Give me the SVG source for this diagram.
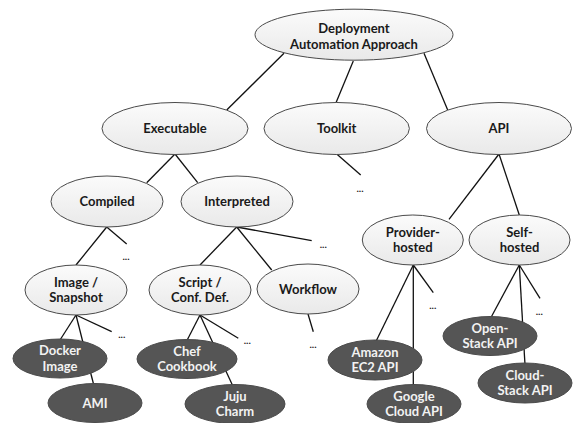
<svg xmlns="http://www.w3.org/2000/svg" width="575" height="423" viewBox="0 0 575 423">
<style>
.lt{fill:url(#g);stroke:#4a4a4a;stroke-width:1}
.dk{fill:#555555;stroke:#4a4a4a;stroke-width:1}
text{font-family:Lato,"Open Sans","Liberation Sans",sans-serif;font-weight:bold;font-size:13px;text-anchor:middle}
.tl{fill:#1a1a1a}
.td{fill:#f2f2f2}
.dots{font-size:10px;fill:#1a1a1a}
.c line{stroke:#111;stroke-width:1.3}
</style>
<defs>
<linearGradient id="g" x1="0" y1="0" x2="0" y2="1">
<stop offset="0" stop-color="#fbfbfb"/>
<stop offset="1" stop-color="#e9e9e9"/>
</linearGradient>
</defs>
<rect width="575" height="423" fill="#fff"/>
<g id="connectors" class="c">
<line x1="284" y1="53.3" x2="226.7" y2="110"/>
<line x1="353.3" y1="61" x2="336" y2="102.7"/>
<line x1="424" y1="53.3" x2="447.7" y2="110"/>
<line x1="336.7" y1="154" x2="360.7" y2="175"/>
<line x1="175" y1="154" x2="146.7" y2="182.7"/>
<line x1="175" y1="154" x2="197.7" y2="182.7"/>
<line x1="499" y1="154" x2="449" y2="219.3"/>
<line x1="499" y1="154" x2="519.3" y2="215"/>
<line x1="106.7" y1="227" x2="76" y2="265"/>
<line x1="106.7" y1="227" x2="126.7" y2="244"/>
<line x1="236.7" y1="227" x2="200" y2="265"/>
<line x1="236.7" y1="227" x2="271.7" y2="270"/>
<line x1="236.7" y1="227" x2="311.7" y2="240.7"/>
<line x1="76" y1="315" x2="60" y2="340"/>
<line x1="76" y1="315" x2="94" y2="386"/>
<line x1="76" y1="315" x2="111.7" y2="331.7"/>
<line x1="200" y1="315" x2="186.7" y2="341"/>
<line x1="200" y1="315" x2="233.3" y2="387"/>
<line x1="200" y1="315" x2="238.3" y2="338.3"/>
<line x1="308" y1="314" x2="313.3" y2="331.7"/>
<line x1="413.3" y1="265" x2="375.7" y2="342"/>
<line x1="413.3" y1="265" x2="413.3" y2="386"/>
<line x1="413.3" y1="265" x2="433.3" y2="292.7"/>
<line x1="519.3" y1="265" x2="490.7" y2="318"/>
<line x1="519.3" y1="265" x2="525" y2="365"/>
<line x1="519.3" y1="265" x2="540" y2="298.3"/>
</g>
<g id="dots">
<text class="dots" x="360" y="192">...</text>
<text class="dots" x="126" y="260">...</text>
<text class="dots" x="323.3" y="248">...</text>
<text class="dots" x="121.7" y="337.7">...</text>
<text class="dots" x="247.3" y="343.7">...</text>
<text class="dots" x="313" y="348">...</text>
<text class="dots" x="432.7" y="309">...</text>
<text class="dots" x="539.3" y="315.3">...</text>
</g>
<g id="n-root"><ellipse class="lt" cx="354" cy="34.7" rx="99" ry="25.5"/><text class="tl" x="354" y="32.5">Deployment</text><text class="tl" x="354" y="48.5">Automation Approach</text></g>
<g id="n-executable"><ellipse class="lt" cx="175" cy="128.5" rx="73" ry="26"/><text class="tl" x="175" y="133">Executable</text></g>
<g id="n-toolkit"><ellipse class="lt" cx="336.7" cy="128.5" rx="72.7" ry="26"/><text class="tl" x="336.7" y="133">Toolkit</text></g>
<g id="n-api"><ellipse class="lt" cx="499" cy="128.5" rx="72.5" ry="26"/><text class="tl" x="499" y="133">API</text></g>
<g id="n-compiled"><ellipse class="lt" cx="107" cy="201.5" rx="56" ry="25.5"/><text class="tl" x="107" y="206">Compiled</text></g>
<g id="n-interpreted"><ellipse class="lt" cx="237" cy="201.5" rx="56" ry="25.5"/><text class="tl" x="237" y="206">Interpreted</text></g>
<g id="n-image"><ellipse class="lt" cx="76" cy="290" rx="51" ry="25"/><text class="tl" x="76" y="286.5">Image /</text><text class="tl" x="76" y="302">Snapshot</text></g>
<g id="n-script"><ellipse class="lt" cx="200" cy="290" rx="51" ry="25"/><text class="tl" x="200" y="286.5">Script /</text><text class="tl" x="200" y="302">Conf. Def.</text></g>
<g id="n-workflow"><ellipse class="lt" cx="308" cy="289" rx="51" ry="25"/><text class="tl" x="308" y="293.5">Workflow</text></g>
<g id="n-provider"><ellipse class="lt" cx="412.8" cy="240" rx="50.5" ry="25"/><text class="tl" x="412.8" y="236.5">Provider-</text><text class="tl" x="412.8" y="252">hosted</text></g>
<g id="n-self"><ellipse class="lt" cx="519.5" cy="240" rx="50.5" ry="25"/><text class="tl" x="519.5" y="236.5">Self-</text><text class="tl" x="519.5" y="252">hosted</text></g>
<g id="n-docker"><ellipse class="dk" cx="60" cy="358.5" rx="47" ry="19.5"/><text class="td" x="60" y="355">Docker</text><text class="td" x="60" y="370.5">Image</text></g>
<g id="n-ami"><ellipse class="dk" cx="95" cy="403" rx="47" ry="19.5"/><text class="td" x="95" y="407.5">AMI</text></g>
<g id="n-chef"><ellipse class="dk" cx="187" cy="359" rx="50" ry="19.5"/><text class="td" x="187" y="355.5">Chef</text><text class="td" x="187" y="371">Cookbook</text></g>
<g id="n-juju"><ellipse class="dk" cx="235" cy="404" rx="50" ry="19.5"/><text class="td" x="235" y="400.5">Juju</text><text class="td" x="235" y="416">Charm</text></g>
<g id="n-amazon"><ellipse class="dk" cx="375" cy="360" rx="47" ry="20"/><text class="td" x="375" y="356.5">Amazon</text><text class="td" x="375" y="372">EC2 API</text></g>
<g id="n-google"><ellipse class="dk" cx="414" cy="404" rx="47" ry="19.5"/><text class="td" x="414" y="400.5">Google</text><text class="td" x="414" y="416">Cloud API</text></g>
<g id="n-openstack"><ellipse class="dk" cx="490" cy="336" rx="47" ry="19.5"/><text class="td" x="490" y="332.5">Open-</text><text class="td" x="490" y="348">Stack API</text></g>
<g id="n-cloudstack"><ellipse class="dk" cx="525" cy="383" rx="47" ry="20"/><text class="td" x="525" y="379.5">Cloud-</text><text class="td" x="525" y="395">Stack API</text></g>
</svg>
